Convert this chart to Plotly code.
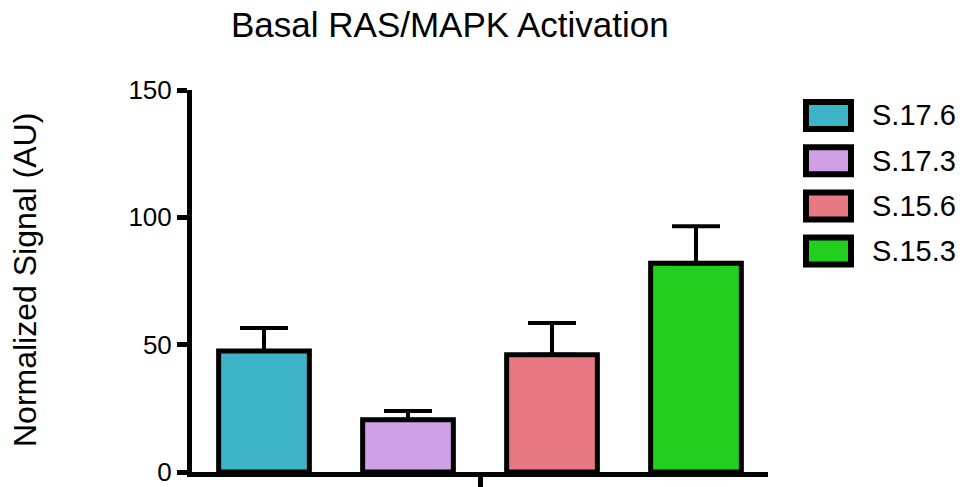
import plotly.graph_objects as go

title = "Basal RAS/MAPK Activation"
y_title = "Normalized Signal (AU)"
series_names = ["S.17.6", "S.17.3", "S.15.6", "S.15.3"]
means = [47.5, 20.5, 46.0, 82.0]
errors_up = [9.0, 3.5, 12.5, 14.5]
colors = ["#3DB4C6", "#CFA0E6", "#E77884", "#22CF1F"]
y_ticks = [0, 50, 100, 150]

# page body has an 8px margin; offset the figure so it lines up with the 965x487 window
OFF = 8
W, H = 965 - 2 * OFF, 487 - OFF
PL, PR, PT, PB = 192, 768, 90, 472          # plot area in window pixels
L, R, T, B = PL - OFF, W - (PR - OFF), PT - OFF, H - (PB - OFF)
FONT = "Liberation Sans, Arial, sans-serif"

def px_x(px):
    return (px - PL) / (PR - PL)

def px_y(py):
    return (PB - py) / (PB - PT)

fig = go.Figure()
for name, m, e, c in zip(series_names, means, errors_up, colors):
    fig.add_trace(go.Bar(
        x=[""], y=[m], name=name,
        marker=dict(color=c, line=dict(color="black", width=5)),
        error_y=dict(type="data", array=[e], arrayminus=[0], symmetric=False,
                     color="black", thickness=4, width=24),
        showlegend=False,
    ))

# legend drawn as shapes + text
for i, (name, c) in enumerate(zip(series_names, colors)):
    cy = 115.5 + 45.2 * i
    fig.add_shape(type="rect", xref="paper", yref="paper",
                  x0=px_x(806), x1=px_x(851), y0=px_y(cy - 13.5), y1=px_y(cy + 13.5),
                  fillcolor=c, line=dict(color="black", width=6))
    fig.add_annotation(xref="paper", yref="paper", x=px_x(870), y=px_y(cy),
                       text=name, showarrow=False, xanchor="left", yanchor="middle",
                       font=dict(size=29, color="black", family=FONT))

fig.add_annotation(xref="paper", yref="paper", x=px_x(25), y=px_y(280),
                   text=y_title, textangle=-90, showarrow=False,
                   xanchor="center", yanchor="middle",
                   font=dict(size=32, color="black", family=FONT))

# chart title
fig.add_annotation(xref="paper", yref="paper", x=px_x(450), y=px_y(25),
                   text=title, showarrow=False, xanchor="center", yanchor="middle",
                   font=dict(size=35, color="black", family=FONT))

fig.update_layout(
    width=W, height=H,
    margin=dict(l=L, r=R, t=T, b=B, pad=0, autoexpand=False),
    paper_bgcolor="white", plot_bgcolor="white",
    barmode="group", bargap=0, bargroupgap=0.37,
    font=dict(family=FONT, color="black"),
)
fig.update_xaxes(showline=True, linecolor="black", linewidth=5, ticks="outside",
                 ticklen=12, tickwidth=5, tickcolor="black", showticklabels=False,
                 showgrid=False, zeroline=False, automargin=False)
fig.update_yaxes(range=[0, 150], tickvals=y_ticks, showline=True, linecolor="black",
                 linewidth=5, ticks="outside", ticklen=10, tickwidth=5, tickcolor="black",
                 showgrid=False, zeroline=False, tickfont=dict(size=26, family=FONT),
                 ticklabelstandoff=0, automargin=False, ticklabeloverflow="allow")

fig.write_html("out.html")
